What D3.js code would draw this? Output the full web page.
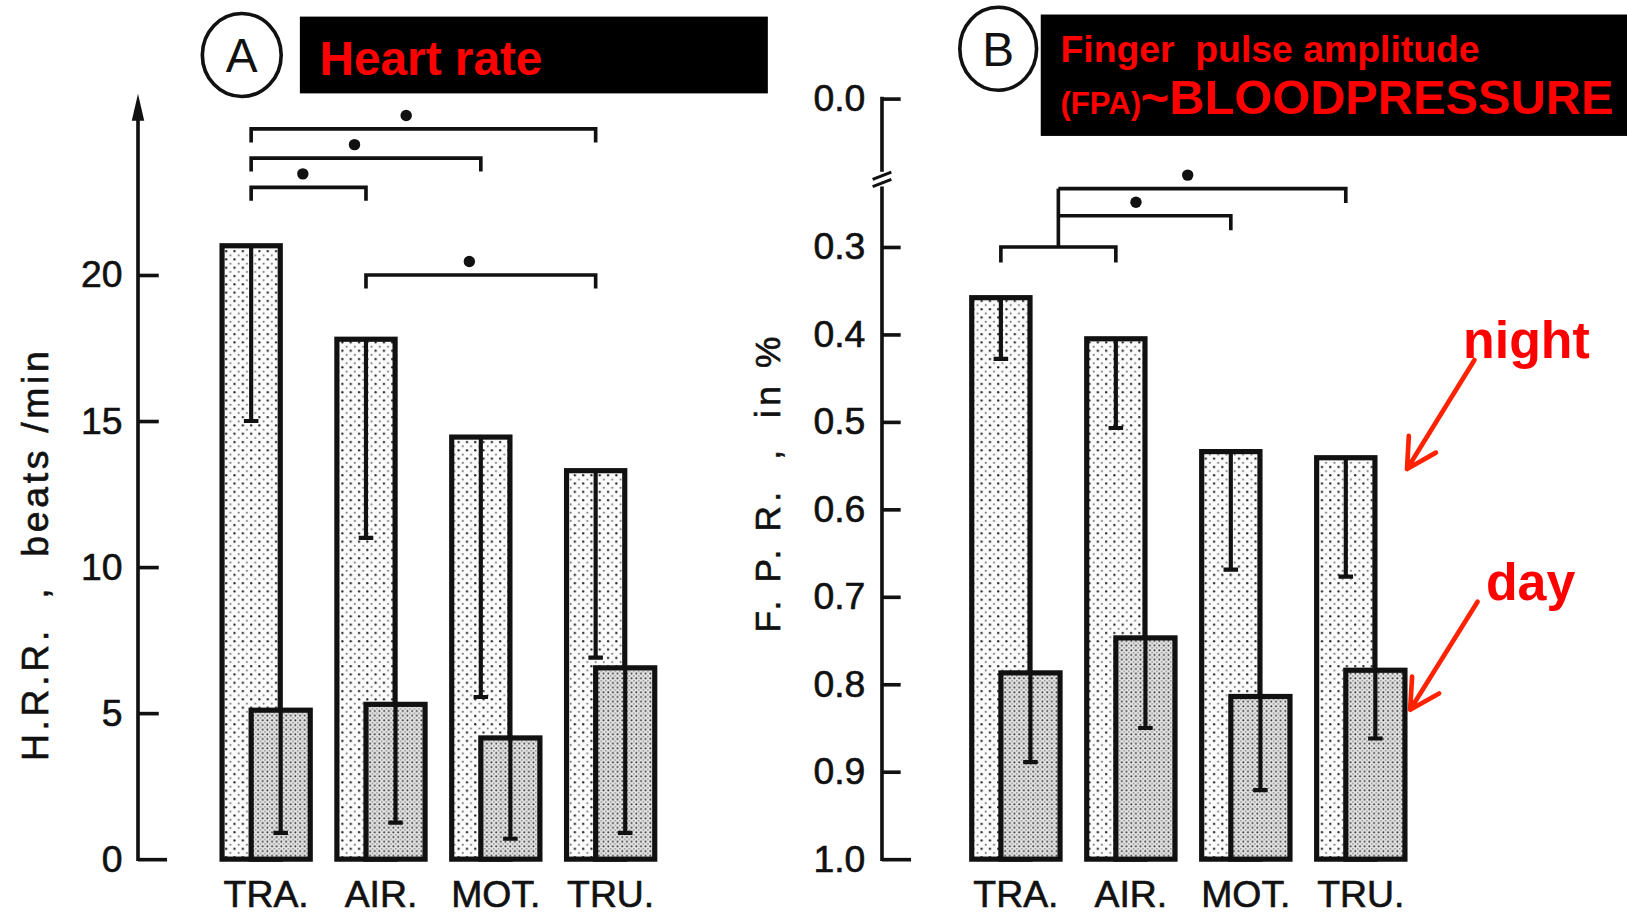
<!DOCTYPE html>
<html>
<head>
<meta charset="utf-8">
<script src="https://cdn.jsdelivr.net/npm/d3@7"></script>
<style>
  body { margin: 0; background: #fff; }
  svg { display: block; font-family: "Liberation Sans", Arial, sans-serif; }
</style>
</head>
<body>
<svg id="mainSvg"></svg>
<script>
const categories = ['TRA.', 'AIR.', 'MOT.', 'TRU.'];

// A: heart rate reaction, beats/min (bar = mean, low = end of error bar)
const hrNight = [21.0, 17.8, 14.45, 13.3];
const hrNightLow = [15.0, 11.0, 5.55, 6.9];
const hrDay = [5.1, 5.3, 4.15, 6.55];
const hrDayLow = [0.9, 1.25, 0.7, 0.9];
const hrTicks = [0, 5, 10, 15, 20];

// B: finger pulse reaction in %, axis runs downward from 0.0
const fprNight = [0.358, 0.405, 0.534, 0.541];
const fprNightLow = [0.428, 0.507, 0.669, 0.677];
const fprDay = [0.787, 0.747, 0.814, 0.784];
const fprDayLow = [0.889, 0.85, 0.921, 0.862];
const fprTicks = [0.0, 0.3, 0.4, 0.5, 0.6, 0.7, 0.8, 0.9, 1.0];

// significance brackets
const hrBrackets = [
  {from: 'TRA.', to: 'TRU.', level: 25},
  {from: 'TRA.', to: 'MOT.', level: 24},
  {from: 'TRA.', to: 'AIR.', level: 23},
  {from: 'AIR.', to: 'TRU.', level: 20}
];
const fprPair = ['TRA.', 'AIR.'];
const fprPairLevel = 0.3;
const fprBrackets = [
  {to: 'MOT.', level: 0.237},
  {to: 'TRU.', level: 0.182}
];

const width = 1627;
const height = 918;
const k = width / 1568;   // layout below is in 1568-wide units
const ink = '#111';

const svg = d3.select('#mainSvg')
  .attr('width', width)
  .attr('height', height);

svg.append('rect').attr('width', width).attr('height', height).attr('fill', '#fff');

// stipple fills
const defs = svg.append('defs');
const pNight = defs.append('pattern').attr('id', 'dotsNight')
  .attr('patternUnits', 'userSpaceOnUse').attr('width', 8).attr('height', 8);
pNight.append('rect').attr('width', 8).attr('height', 8).attr('fill', '#fbfbfb');
pNight.append('circle').attr('cx', 2).attr('cy', 2).attr('r', 1.1).attr('fill', '#222');
pNight.append('circle').attr('cx', 6).attr('cy', 6).attr('r', 1.0).attr('fill', '#777');

const pDay = defs.append('pattern').attr('id', 'dotsDay')
  .attr('patternUnits', 'userSpaceOnUse').attr('width', 4.5).attr('height', 4.5);
pDay.append('rect').attr('width', 4.5).attr('height', 4.5).attr('fill', '#e4e4e4');
pDay.append('circle').attr('cx', 1.2).attr('cy', 1.2).attr('r', 0.95).attr('fill', '#333');
pDay.append('circle').attr('cx', 3.45).attr('cy', 3.45).attr('r', 0.85).attr('fill', '#888');

const root = svg.append('g').attr('transform', `scale(${k})`);

//scales
const xA = d3.scaleBand().domain(categories).range([214, 631]).paddingInner(0.232).paddingOuter(0);
const xB = d3.scaleBand().domain(categories).range([936.5, 1354]).paddingInner(0.232).paddingOuter(0);
const yA = d3.scaleLinear().domain([0, 20]).range([828, 265]);
// broken axis: 0.0 sits above the break
const yB = d3.scaleLinear().domain([0, 0.3, 1.0]).range([95, 238, 828]);

function drawBars(g, x, y, base, night, nightLow, day, dayLow) {
  const bw = x.bandwidth();
  const rows = categories.map((c, i) => ({c, night: night[i], nightLow: nightLow[i], day: day[i], dayLow: dayLow[i]}));
  const grp = g.selectAll('.grp').data(rows).enter().append('g').classed('grp', true);

  grp.append('rect')
    .attr('x', d => x(d.c))
    .attr('width', bw * 0.66)
    .attr('y', d => y(d.night))
    .attr('height', d => base - y(d.night))
    .attr('fill', 'url(#dotsNight)')
    .attr('stroke', ink).attr('stroke-width', 5);

  grp.append('path')
    .attr('d', d => {
      const cx = x(d.c) + bw * 0.33;
      return `M${cx},${y(d.night)}V${y(d.nightLow)}M${cx - 7},${y(d.nightLow)}H${cx + 7}`;
    })
    .attr('fill', 'none').attr('stroke', ink).attr('stroke-width', 4);

  grp.append('rect')
    .attr('x', d => x(d.c) + bw * 0.33)
    .attr('width', bw * 0.67)
    .attr('y', d => y(d.day))
    .attr('height', d => base - y(d.day))
    .attr('fill', 'url(#dotsDay)')
    .attr('stroke', ink).attr('stroke-width', 5);

  grp.append('path')
    .attr('d', d => {
      const cx = x(d.c) + bw * 0.665;
      return `M${cx},${y(d.day)}V${y(d.dayLow)}M${cx - 7},${y(d.dayLow)}H${cx + 7}`;
    })
    .attr('fill', 'none').attr('stroke', ink).attr('stroke-width', 4);
}

function styleAxis(ax, longTick) {
  ax.attr('font-size', 36).attr('font-family', '"Liberation Sans", Arial, sans-serif');
  ax.select('.domain').remove();
  ax.selectAll('.tick line').attr('stroke', ink).attr('stroke-width', 3.5);
  ax.selectAll('.tick text').attr('fill', ink).attr('stroke', ink).attr('stroke-width', 0.6);
  ax.selectAll('.tick').filter(longTick).select('line').attr('x2', 28);
}

function catAxis(g, x) {
  const ax = g.append('g').attr('transform', 'translate(0,828)')
    .call(d3.axisBottom(x).tickSize(0).tickPadding(21));
  ax.attr('font-size', 36).attr('font-family', '"Liberation Sans", Arial, sans-serif');
  ax.select('.domain').remove();
  ax.selectAll('text').attr('fill', ink).attr('stroke', ink).attr('stroke-width', 0.6);
}

function bracket(g, x1, x2, y, dropL, dropR, star) {
  g.append('path')
    .attr('d', `M${x1},${y + dropL}V${y}H${x2}V${y + dropR}`)
    .attr('fill', 'none').attr('stroke', ink).attr('stroke-width', 3.5);
  if (star) {
    g.append('circle')
      .attr('cx', x1 + (x2 - x1) * 0.45)
      .attr('cy', y - 13)
      .attr('r', 5.5)
      .attr('fill', ink);
  }
}

// ---------- panel A ----------
const gA = root.append('g');

const axA = gA.append('g').attr('transform', 'translate(133,0)')
  .call(d3.axisLeft(yA).tickValues(hrTicks).tickSizeInner(-20).tickSizeOuter(0).tickPadding(15));
styleAxis(axA, d => d === 0);

gA.append('line')
  .attr('x1', 133).attr('x2', 133)
  .attr('y1', yA(0) + 1.75).attr('y2', yA(25.4))
  .attr('stroke', ink).attr('stroke-width', 3.5);
gA.append('path')
  .attr('d', `M133,${yA(26.2)}L127,${yA(26.2) + 26}L139,${yA(26.2) + 26}Z`)
  .attr('fill', ink);

gA.append('text')
  .attr('transform', 'translate(46,536) rotate(-90)')
  .attr('text-anchor', 'middle')
  .attr('font-size', 36)
  .attr('fill', ink).attr('stroke', ink).attr('stroke-width', 0.6)
  .attr('textLength', 395)
  .attr('lengthAdjust', 'spacing')
  .style('white-space', 'pre')
  .text('H.R.R.  ,  beats /min');

drawBars(gA, xA, yA, yA(0), hrNight, hrNightLow, hrDay, hrDayLow);
catAxis(gA, xA);

const nightCenterA = c => xA(c) + xA.bandwidth() * 0.33;
hrBrackets.forEach(b => {
  bracket(gA, nightCenterA(b.from), nightCenterA(b.to), yA(b.level), 13, 13, true);
});

// title A
gA.append('ellipse').attr('cx', 233).attr('cy', 53).attr('rx', 38).attr('ry', 40)
  .attr('fill', 'none').attr('stroke', ink).attr('stroke-width', 3.5);
gA.append('text').attr('x', 233).attr('y', 53).attr('dy', '0.36em')
  .attr('text-anchor', 'middle').attr('font-size', 46).attr('fill', ink).text('A');
gA.append('rect').attr('x', 289).attr('y', 16).attr('width', 451).attr('height', 74).attr('fill', '#000');
gA.append('text').attr('x', 308).attr('y', 72)
  .attr('font-size', 46).attr('font-weight', 'bold').attr('fill', '#ff0000')
  .text('Heart rate');

// ---------- panel B ----------
const gB = root.append('g');

const axB = gB.append('g').attr('transform', 'translate(850,0)')
  .call(d3.axisLeft(yB).tickValues(fprTicks).tickFormat(d3.format('.1f'))
    .tickSizeInner(-18).tickSizeOuter(0).tickPadding(16));
styleAxis(axB, d => d === 1.0);

gB.append('line')
  .attr('x1', 850).attr('x2', 850)
  .attr('y1', yB(0) - 1.75).attr('y2', yB(0.148))
  .attr('stroke', ink).attr('stroke-width', 3.5);
gB.append('line')
  .attr('x1', 850).attr('x2', 850)
  .attr('y1', yB(0.178)).attr('y2', yB(1.0) + 1.75)
  .attr('stroke', ink).attr('stroke-width', 3.5);
// break marks
[0, 7].forEach(off => {
  const yb = yB(0.155) + off;
  gB.append('line')
    .attr('x1', 841).attr('x2', 859)
    .attr('y1', yb + 4).attr('y2', yb - 3)
    .attr('stroke', ink).attr('stroke-width', 3);
});

gB.append('text')
  .attr('transform', 'translate(752,467) rotate(-90)')
  .attr('text-anchor', 'middle')
  .attr('font-size', 34)
  .attr('fill', ink).attr('stroke', ink).attr('stroke-width', 0.6)
  .attr('textLength', 285)
  .attr('lengthAdjust', 'spacing')
  .style('white-space', 'pre')
  .text('F. P. R.  ,  in %');

drawBars(gB, xB, yB, yB(1.0), fprNight, fprNightLow, fprDay, fprDayLow);
catAxis(gB, xB);

const nightCenterB = c => xB(c) + xB.bandwidth() * 0.33;
const pairL = nightCenterB(fprPair[0]);
const pairR = nightCenterB(fprPair[1]);
const pairMid = (pairL + pairR) / 2;
bracket(gB, pairL, pairR, yB(fprPairLevel), 15, 15, false);
gB.append('line')
  .attr('x1', pairMid).attr('x2', pairMid)
  .attr('y1', yB(fprPairLevel)).attr('y2', yB(d3.min(fprBrackets, d => d.level)))
  .attr('stroke', ink).attr('stroke-width', 3.5);
fprBrackets.forEach(b => {
  bracket(gB, pairMid, nightCenterB(b.to), yB(b.level), 0, 14, true);
});

// title B
gB.append('ellipse').attr('cx', 962).attr('cy', 47).attr('rx', 37).attr('ry', 40)
  .attr('fill', 'none').attr('stroke', ink).attr('stroke-width', 3.5);
gB.append('text').attr('x', 962).attr('y', 47).attr('dy', '0.36em')
  .attr('text-anchor', 'middle').attr('font-size', 46).attr('fill', ink).text('B');
gB.append('rect').attr('x', 1003).attr('y', 14).attr('width', 566).attr('height', 117).attr('fill', '#000');
gB.append('text').attr('x', 1022).attr('y', 60)
  .attr('font-size', 36).attr('font-weight', 'bold').attr('fill', '#ff0000')
  .style('white-space', 'pre')
  .text('Finger  pulse amplitude');
const t2 = gB.append('text').attr('x', 1022).attr('y', 110)
  .attr('font-weight', 'bold').attr('fill', '#ff0000');
t2.append('tspan').attr('font-size', 30).text('(FPA)');
t2.append('tspan').attr('font-size', 47).text('~BLOODPRESSURE');

// night / day notes
function arrow(g, x1, y1, x2, y2) {
  const a = Math.atan2(y2 - y1, x2 - x1);
  const len = 32, spread = 0.5;
  const p1 = [x2 - len * Math.cos(a - spread), y2 - len * Math.sin(a - spread)];
  const p2 = [x2 - len * Math.cos(a + spread), y2 - len * Math.sin(a + spread)];
  g.append('path')
    .attr('d', `M${x1},${y1}L${x2},${y2}M${p1}L${x2},${y2}L${p2}`)
    .attr('fill', 'none').attr('stroke', '#ff2200').attr('stroke-width', 4.5)
    .attr('stroke-linecap', 'round').attr('stroke-linejoin', 'round');
}
gB.append('text').attr('x', 1410).attr('y', 345)
  .attr('font-size', 50).attr('font-weight', 'bold').attr('fill', '#ff0000').text('night');
arrow(gB, 1421, 347, 1356, 452);
gB.append('text').attr('x', 1432).attr('y', 578)
  .attr('font-size', 50).attr('font-weight', 'bold').attr('fill', '#ff0000').text('day');
arrow(gB, 1424, 580, 1359, 684);
</script>
</body>
</html>
